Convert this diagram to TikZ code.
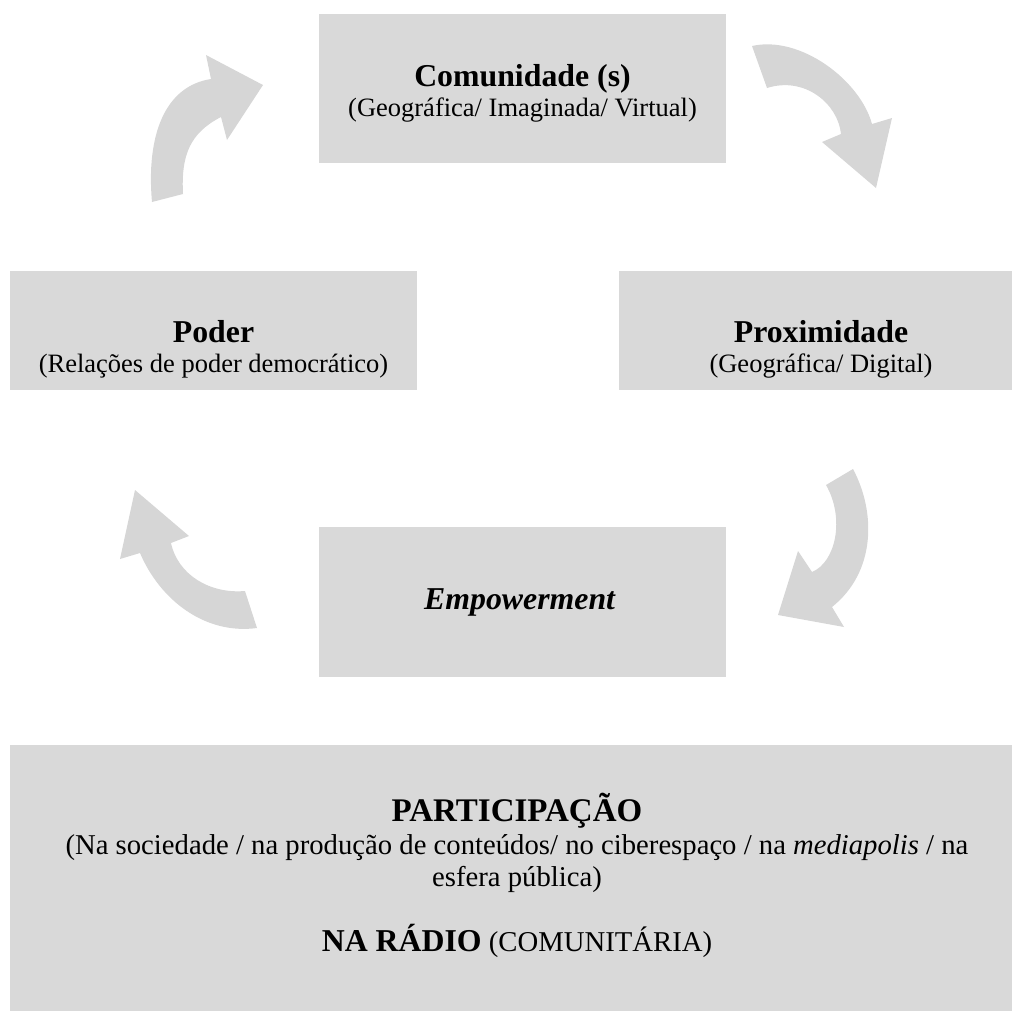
\documentclass[tikz,border=0pt]{standalone}
\usepackage{fontspec}
\setmainfont{Liberation Serif}
\definecolor{boxgray}{HTML}{D9D9D9}
\definecolor{arrowgray}{HTML}{D6D6D6}
\newcommand{\headfont}{\fontsize{31.8}{36}\selectfont\bfseries}
\newcommand{\bodyfont}{\fontsize{26.5}{30}\selectfont}
\newcommand{\partfont}{\fontsize{28.7}{33}\selectfont}
\newcommand{\parthead}{\fontsize{33}{37}\selectfont\bfseries}
\begin{document}
\begin{tikzpicture}[x=1pt,y=-1pt,
  box/.style={fill=boxgray, draw=none, inner sep=0pt, anchor=north west},
  txt/.style={anchor=base, inner sep=0pt, font=\bodyfont},
  head/.style={anchor=base, inner sep=0pt, font=\headfont},
  arrowshape/.style={fill=arrowgray, draw=none}]
\useasboundingbox (0,0) rectangle (1012,1010);
\clip (0,0) rectangle (1012,1010);

% boxes
\node[box, minimum width=407pt, minimum height=149pt] (comm) at (319,14) {};
\node[box, minimum width=407pt, minimum height=119pt] (poder) at (10,271) {};
\node[box, minimum width=406pt, minimum height=119pt] (prox) at (619,271) {};
\node[box, minimum width=407pt, minimum height=150pt] (emp) at (319,527) {};
\node[box, minimum width=1015pt, minimum height=280pt] (part) at (10,745) {};

% texts
\node[head] (commT1) at (522.5,86) {Comunidade (s)};
\node[txt] (commT2) at (522.5,116.5) {(Geográfica/ Imaginada/ Virtual)};
\node[head] (poderT1) at (213.5,342) {Poder};
\node[txt] (poderT2) at (213.5,372) {(Relações de poder democrático)};
\node[head] (proxT1) at (821,342) {Proximidade};
\node[txt] (proxT2) at (821,372) {(Geográfica/ Digital)};
\node[head] (empT) at (520,609) {\textit{Empowerment}};
\node[head, font=\parthead] (partT1) at (517,821) {PARTICIPAÇÃO};
\node[txt, font=\partfont] (partT2) at (517,854) {(Na sociedade / na produção de conteúdos/ no ciberespaço / na \textit{mediapolis} / na};
\node[txt, font=\partfont] (partT3) at (517,886) {esfera pública)};
\node[txt, font=\partfont] (partT4) at (517,951) {{\headfont NA RÁDIO} (COMUNITÁRIA)};

% curved arrows
% top-left: from Poder towards Comunidade
\path[arrowshape] (152,202) .. controls (146,135) and (165,86) .. (211,79)
  -- (206,55) -- (263,85) -- (227,140) -- (221,117)
  .. controls (190,133) and (181,155) .. (183,194) -- cycle;
% top-right: from Comunidade towards Proximidade
\path[arrowshape] (767,88) -- (752,46) .. controls (800,35) and (860,80) .. (872,124)
  -- (892,118) -- (876,188) -- (822,142) -- (841,134)
  .. controls (838,104) and (805,76) .. (767,88) -- cycle;
% right-bottom: from Proximidade towards Empowerment
\path[arrowshape] (826,485) -- (853,469) .. controls (876,512) and (876,572) .. (832,607)
  -- (844,627) -- (778,615) -- (798,551) -- (812,572)
  .. controls (836,562) and (845,518) .. (826,485) -- cycle;
% bottom-left: from Empowerment towards Poder
\path[arrowshape] (135,490) -- (189,536) -- (171,543)
  .. controls (178,575) and (210,594) .. (245,591) -- (257,628)
  .. controls (205,635) and (160,600) .. (140,553) -- (120,559) -- cycle;
\end{tikzpicture}
\end{document}
